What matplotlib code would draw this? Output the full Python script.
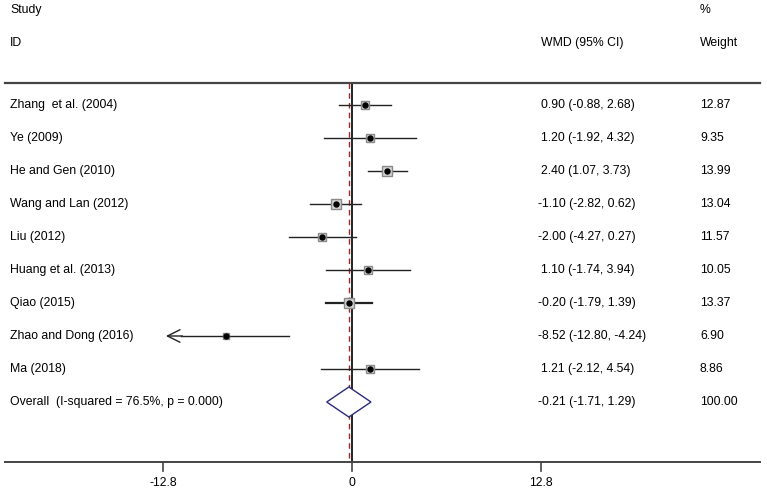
import matplotlib.pyplot as plt
from matplotlib.transforms import blended_transform_factory

# data
studies = ["Zhang  et al. (2004)", "Ye (2009)", "He and Gen (2010)", "Wang and Lan (2012)",
           "Liu (2012)", "Huang et al. (2013)", "Qiao (2015)", "Zhao and Dong (2016)", "Ma (2018)"]
wmd = [0.90, 1.20, 2.40, -1.10, -2.00, 1.10, -0.20, -8.52, 1.21]
lower = [-0.88, -1.92, 1.07, -2.82, -4.27, -1.74, -1.79, -12.80, -2.12]
upper = [2.68, 4.32, 3.73, 0.62, 0.27, 3.94, 1.39, -4.24, 4.54]
weights = [12.87, 9.35, 13.99, 13.04, 11.57, 10.05, 13.37, 6.90, 8.86]
overall = -0.21
overall_lo = -1.71
overall_hi = 1.29
overall_label = "Overall  (I-squared = 76.5%, p = 0.000)"
xticks = [-12.8, 0, 12.8]
axis_min = -12.8

plt.rcParams["font.family"] = ["Liberation Sans", "DejaVu Sans"]
fs = 8.8

fig = plt.figure(figsize=(7.67, 4.92), dpi=100)
ax = fig.add_axes([0, 0, 1, 1])
ax.set_xlim(-23.86, 28.14)
ax.set_ylim(492, 0)
ax.axis("off")
tr = blended_transform_factory(ax.transAxes, ax.transData)

row0, step = 105, 33
top_y, bottom_y = 83, 462

# headers
ax.text(10 / 767, 10, "Study", transform=tr, fontsize=fs, va="center")
ax.text(10 / 767, 43, "ID", transform=tr, fontsize=fs, va="center")
ax.text(541 / 767, 43, "WMD (95% CI)", transform=tr, fontsize=fs, va="center")
ax.text(700 / 767, 10, "%", transform=tr, fontsize=fs, va="center")
ax.text(700 / 767, 43, "Weight", transform=tr, fontsize=fs, va="center")

# horizontal rules
ax.plot([5 / 767, 760 / 767], [top_y, top_y], transform=tr, color="#444444", lw=1.6)
ax.plot([5 / 767, 760 / 767], [bottom_y, bottom_y], transform=tr, color="#444444", lw=1.4)

# null line and overall line
ax.plot([0, 0], [top_y, bottom_y], color="black", lw=1.2, zorder=1)
ax.plot([overall, overall], [top_y, bottom_y], color="#a0282a", lw=1, ls=(0, (4, 3)), zorder=2)

for i, name in enumerate(studies):
    y = row0 + step * i
    lw = 1.6 if name.startswith("Qiao") else 1.0
    if lower[i] <= axis_min:
        ax.plot([axis_min + 1.2, upper[i]], [y, y], color="#222222", lw=lw, zorder=3)
        ax.annotate("", xy=(axis_min, y), xytext=(axis_min + 1.5, y),
                    arrowprops=dict(arrowstyle="->,head_length=0.9,head_width=0.45",
                                    color="#222222", lw=1))
    else:
        ax.plot([lower[i], upper[i]], [y, y], color="#222222", lw=lw, zorder=3)
    ax.plot(wmd[i], y, marker="s", ms=1.8 * weights[i] ** 0.5, mfc="#d4d4d4",
            mec="#8a8a8a", mew=1, zorder=4)
    ax.plot(wmd[i], y, marker="o", ms=3.6, color="black", zorder=5)
    ax.text(10 / 767, y, name, transform=tr, fontsize=fs, va="center")
    ax.text(541 / 767 if wmd[i] >= 0 else 538 / 767, y,
            f"{wmd[i]:.2f} ({lower[i]:.2f}, {upper[i]:.2f})",
            transform=tr, fontsize=fs, va="center")
    ax.text(700 / 767, y, f"{weights[i]:.2f}", transform=tr, fontsize=fs, va="center")

# overall diamond
y = row0 + step * len(studies)
ax.fill([overall_lo, overall, overall_hi, overall], [y, y - 15, y, y + 15],
        facecolor="white", edgecolor="#2b2b7a", lw=1, zorder=4)
ax.text(10 / 767, y, overall_label, transform=tr, fontsize=fs, va="center")
ax.text(538 / 767, y, f"{overall:.2f} ({overall_lo:.2f}, {overall_hi:.2f})",
        transform=tr, fontsize=fs, va="center")
ax.text(700 / 767, y, "100.00", transform=tr, fontsize=fs, va="center")

# x ticks
for t in xticks:
    ax.plot([t, t], [bottom_y, bottom_y + 9], color="#444444", lw=1.2)
    ax.text(t, 483, f"{t:g}", fontsize=fs, ha="center", va="center")

fig.savefig("out.png", dpi=100)
